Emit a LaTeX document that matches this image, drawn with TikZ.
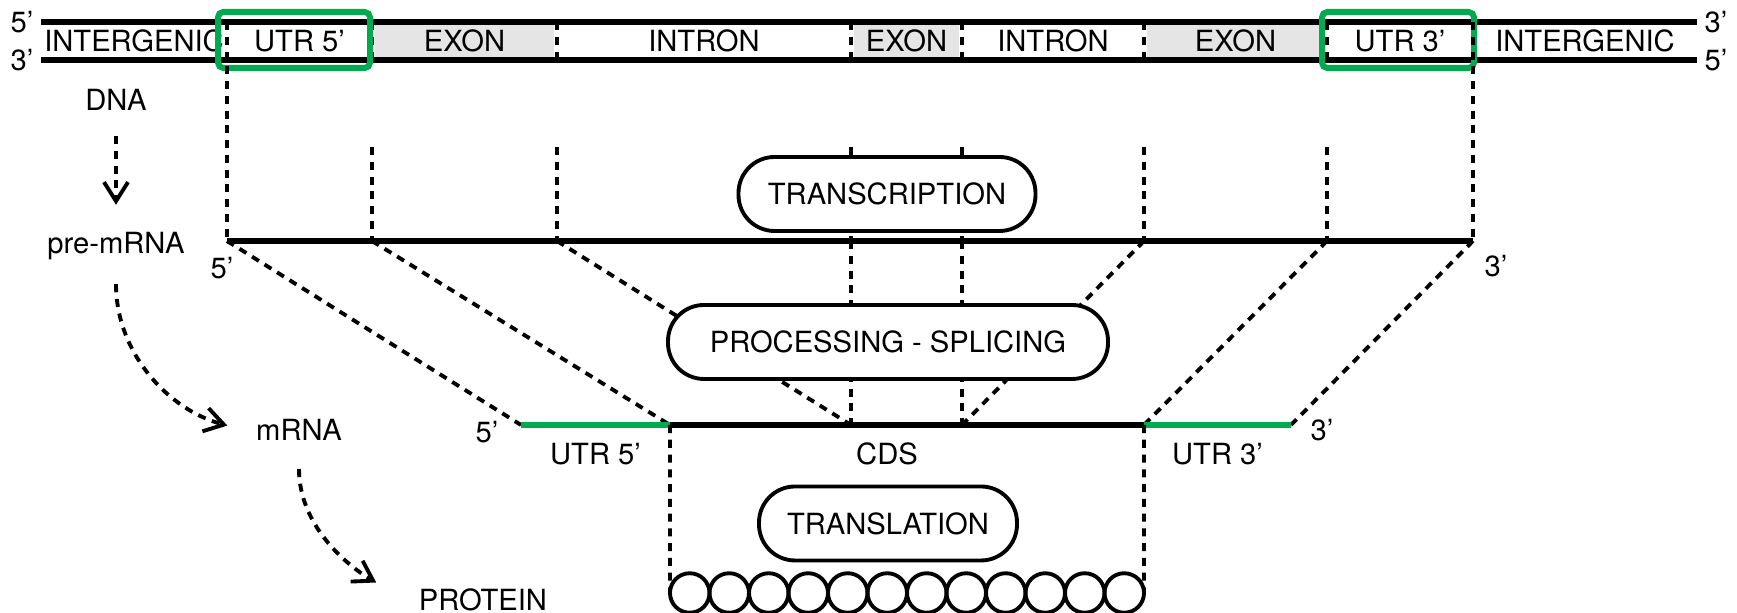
\documentclass[tikz,border=0pt]{standalone}
\usepackage{fontspec}
\setmainfont{TeX Gyre Heros}
\usepackage{tikz}
\usetikzlibrary{positioning,calc,arrows.meta}
\definecolor{utrgreen}{RGB}{0,170,79}
\definecolor{exongray}{RGB}{229,229,229}

\begin{document}
\begin{tikzpicture}[
            font=\fontsize{8.3}{10}\selectfont,
            strand/.style={line width=1.6pt},
            guide/.style={line width=1.1pt, dash pattern=on 2.3pt off 1.9pt},
            flow/.style={guide, -{Straight Barb[length=1.9mm, width=2.4mm]}},
            utrline/.style={utrgreen, line width=1.8pt},
            utrframe/.style={draw=utrgreen, line width=1.7pt, rounded corners=1.5pt},
            stepbox/.style={draw, fill=white, line width=1.1pt, rounded corners=0.36cm, minimum height=0.74cm},
            bead/.style={draw, circle, line width=1.1pt, minimum size=0.395cm, inner sep=0pt, outer sep=0pt},
            prime/.style={inner sep=0pt}
        ]
        \useasboundingbox (0,0) rectangle (17.37,6.13);

        % DNA double strand
        \foreach \n/\x in {0/0.41, 1/2.27, 2/3.72, 3/5.57, 4/8.51, 5/9.62, 6/11.44, 7/13.27, 8/14.73, 9/16.97} {
            \coordinate (t\n) at (\x,5.91);
            \coordinate (b\n) at (\x,5.53);
            \coordinate (u\n) at (\x,4.66);
            \coordinate (p\n) at (\x,3.72);
        }
        \fill[exongray] ($(t2)+(0.03,0)$) rectangle ($(b3)+(-0.03,0)$);
        \fill[exongray] ($(t4)+(0.03,0)$) rectangle ($(b5)+(-0.03,0)$);
        \fill[exongray] ($(t6)+(0.03,0)$) rectangle ($(b7)+(-0.03,0)$);
        \foreach \n in {2,...,7} \draw[guide] (t\n) -- (b\n);
        \draw[strand] (t0) -- (t9);
        \draw[strand] (b0) -- (b9);

        \node[prime, left=0.07cm of t0] (t0end) {5’};
        \node[prime, left=0.07cm of b0] (b0end) {3’};
        \node[prime, right=0.07cm of t9] (t9end) {3’};
        \node[prime, right=0.07cm of b9] (b9end) {5’};

        % Regions along the gene
        \node (ig5) at ($(t0)!0.5!(b1)$) {INTERGENIC};
        \node (utr5) at ($(t1)!0.5!(b2)$) {UTR 5’};
        \node (ex1) at ($(t2)!0.5!(b3)$) {EXON};
        \node (in1) at ($(t3)!0.5!(b4)$) {INTRON};
        \node (ex2) at ($(t4)!0.5!(b5)$) {EXON};
        \node (in2) at ($(t5)!0.5!(b6)$) {INTRON};
        \node (ex3) at ($(t6)!0.5!(b7)$) {EXON};
        \node (utr3) at ($(t7)!0.5!(b8)$) {UTR 3’};
        \node (ig3) at ($(t8)!0.5!(b9)$) {INTERGENIC};

        % UTR frames
        \draw[utrframe] ($(t1)+(-0.09,0.10)$) rectangle ($(b2)+(-0.02,-0.08)$);
        \draw[utrframe] ($(t7)+(-0.05,0.10)$) rectangle ($(b8)+(0.01,-0.08)$);

        % Steps on the left
        \node (dna) at (1.16,5.13) {DNA};
        \node (premrna) at (1.16,3.67) {pre-mRNA};
        \node (mrna) at (2.99,1.83) {mRNA};
        \node (protein) at (4.83,0.13) {PROTEIN};
        \draw[flow, shorten <=0.13cm, shorten >=0.15cm] (dna) -- (premrna);
        \draw[flow, shorten <=0.12cm, shorten >=0.17cm] (premrna.south) to[out=-90, in=165] (mrna.west);
        \draw[flow, shorten <=0.16cm, shorten >=0.35cm] (mrna.south) to[out=-90, in=150] (protein.west);

        % pre-mRNA
        \foreach \n/\x in {1/5.21, 2/6.70, 3/8.51, 4/8.51, 5/9.62, 6/9.62, 7/11.44, 8/12.91}
            \coordinate (m\n) at (\x,1.88);
        \draw[guide] (t1) -- (p1);
        \draw[guide] (t8) -- (p8);
        \foreach \n in {2,...,7} \draw[guide] (u\n) -- (p\n);
        \foreach \n in {1,...,8} \draw[guide] (p\n) -- (m\n);
        \draw[strand] (p1) -- (p8);
        \node[prime] (p1end) at ($(p1)+(-0.05,-0.27)$) {5’};
        \node[prime] (p8end) at ($(p8)+(0.23,-0.25)$) {3’};

        % mRNA
        \draw[strand] (m2) -- (m7);
        \draw[utrline] (m1) -- (m2);
        \draw[utrline] (m7) -- (m8);
        \node[prime] (m1end) at ($(m1)+(-0.34,-0.07)$) {5’};
        \node[prime] (m8end) at ($(m8)+(0.31,-0.05)$) {3’};
        \node (mutr5) at ($(m1)!0.5!(m2)+(0,-0.29)$) {UTR 5’};
        \node (cds) at (8.87,1.59) {CDS};
        \node (mutr3) at ($(m7)!0.5!(m8)+(0,-0.29)$) {UTR 3’};

        % Protein chain
        \foreach \i in {0,...,11}
            \node[bead] (aa\i) at ({6.70+0.1975+0.395*\i},0.20) {};
        \draw[guide] (m2) -- (aa0.west);
        \draw[guide] (m7) -- (aa11.east);

        % Process steps
        \node[stepbox, minimum width=2.97cm] (transcription) at (8.87,4.19) {TRANSCRIPTION};
        \node[stepbox, minimum width=4.40cm] (splicing) at (8.88,2.71) {PROCESSING - SPLICING};
        \node[stepbox, minimum width=2.58cm] (translation) at (8.88,0.895) {TRANSLATION};

\end{tikzpicture}
\end{document}
